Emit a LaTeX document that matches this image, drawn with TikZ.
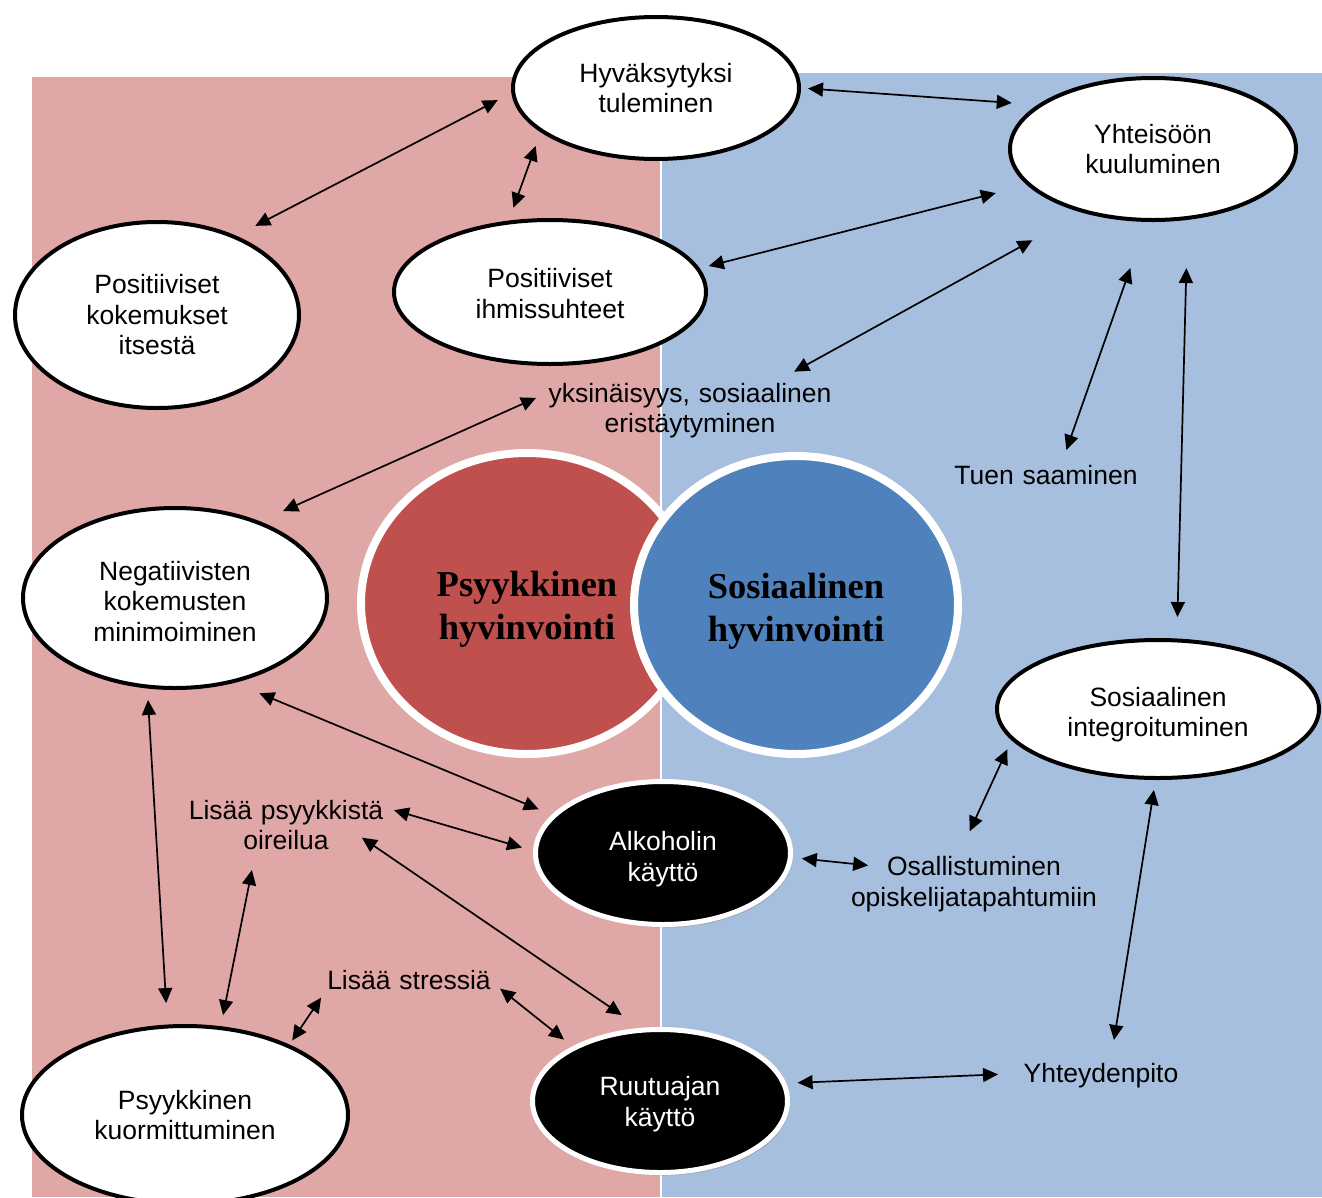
\documentclass[tikz,border=0pt]{standalone}
\usepackage{fontspec}
\setmainfont{Liberation Sans}
\newfontfamily\serifbold{Liberation Serif}
\usetikzlibrary{arrows.meta,shadows,shapes.geometric}
\definecolor{pinkbg}{RGB}{223,167,166}
\definecolor{bluebg}{RGB}{167,191,222}
\definecolor{redc}{RGB}{192,80,77}
\definecolor{bluec}{RGB}{79,129,189}
\newcommand\lowerby[1]{\rule{0pt}{#1}}
\begin{document}
\begin{tikzpicture}[x=1pt,y=-1pt,
  txt/.style={font=\fontsize{26.5}{30.5}\selectfont, align=center},
  lbl/.style={txt, inner sep=0pt, outer sep=0pt},
  wnode/.style={txt, ellipse, draw=black, line width=4pt, fill=white, inner sep=0pt},
  bnode/.style={txt, ellipse, draw=white, line width=5pt, fill=black, text=white, inner sep=0pt,
    drop shadow={opacity=0.35, shadow xshift=2pt, shadow yshift=-3pt}},
  circ/.style={ellipse, draw=white, line width=8pt, inner sep=0pt, align=center,
    font=\serifbold\bfseries\fontsize{36.5}{43}\selectfont,
    drop shadow={opacity=0.3, shadow xshift=2pt, shadow yshift=-3pt}},
  arr/.style={line width=1.7pt, arrows={Triangle[length=15pt 0,width=14pt 0]-Triangle[length=15pt 0,width=14pt 0]}}
]
\useasboundingbox (0,0) rectangle (1322,1197);
\clip (0,0) rectangle (1322,1197);
\fill[white] (0,0) rectangle (1322,1197);
\fill[pinkbg] (32,77) rectangle (661,1197);
\fill[bluebg] (661,72.5) rectangle (1322,1197);
\draw[white, line width=1.2pt] (661,72.5) -- (661,1197);

% central circles
\node[circ, fill=redc, minimum width=332pt, minimum height=301pt] (PSY) at (527,603.5) {\lowerby{37pt}Psyykkinen\\hyvinvointi};
\node[circ, fill=bluec, minimum width=324pt, minimum height=298pt] (SOS) at (796,605) {\lowerby{37pt}Sosiaalinen\\hyvinvointi};

% white ellipses
\node[wnode, minimum width=286pt, minimum height=142pt] (H) at (656,88) {Hyväksytyksi\\tuleminen};
\node[wnode, minimum width=286pt, minimum height=142pt] (Y) at (1153,149) {Yhteisöön\\kuuluminen};
\node[wnode, minimum width=284pt, minimum height=186pt] (PK) at (157,315) {Positiiviset\\kokemukset\\itsestä};
\node[wnode, minimum width=312pt, minimum height=144pt] (PI) at (550,292) {\lowerby{22pt}Positiiviset\\ihmissuhteet};
\node[wnode, minimum width=304pt, minimum height=180pt] (N) at (175,598) {\lowerby{25.5pt}Negatiivisten\\kokemusten\\minimoiminen};
\node[wnode, minimum width=322pt, minimum height=138pt] (S) at (1158,709) {\lowerby{30.5pt}Sosiaalinen\\integroituminen};
\node[wnode, minimum width=326pt, minimum height=178pt] (K) at (185,1115) {Psyykkinen\\kuormittuminen};

% black ellipses
\node[bnode, minimum width=255pt, minimum height=143pt] (A) at (663,853) {\lowerby{31.5pt}Alkoholin\\käyttö};
\node[bnode, minimum width=255pt, minimum height=143pt] (R) at (660,1101) {\lowerby{25.5pt}Ruutuajan\\käyttö};

% plain labels
\node[lbl, text width=286pt, minimum height=60pt] (L1) at (690,408) {\lowerby{24.5pt}yksinäisyys, sosiaalinen\\eristäytyminen};
\node[lbl, text width=188pt, minimum height=32pt] (T) at (1046,475) {Tuen saaminen};
\node[lbl, text width=198pt, minimum height=60pt] (LP) at (286,825) {Lisää psyykkistä\\oireilua};
\node[lbl, text width=252pt, minimum height=60pt] (O) at (974,881) {\lowerby{25.5pt}Osallistuminen\\opiskelijatapahtumiin};
\node[lbl, text width=168pt, minimum height=32pt] (LS) at (409,980) {Lisää stressiä};
\node[lbl, text width=160pt, minimum height=32pt] (YP) at (1101,1072) {\lowerby{25.5pt}Yhteydenpito};

% connectors
\draw[arr, shorten <=15.3pt, shorten >=21.4pt] (H.182.8) -- (PK.45.9);
\draw[arr, shorten <=14.6pt, shorten >=13.6pt] (H.201.8) -- (PI.120.5);
\draw[arr, shorten <=7pt, shorten >=26pt] (H.0) -- (Y.159.8);
\draw[arr, shorten <=32.2pt, shorten >=9.4pt] (Y.196.7) -- (PI.9.5);
\draw[arr, shorten <=56.9pt, shorten >=12.6pt] (Y.222.4) -- (L1.18.8);
\draw[arr, shorten <=48.9pt, shorten >=9.6pt] (Y.265.6) -- (T.43.6);
\draw[arr, shorten <=48.2pt, shorten >=21.5pt] (Y.296.6) -- (S.75.4);
\draw[arr, shorten <=12pt, shorten >=25.2pt] (L1.174.05) -- (N.42.1);
\draw[arr, shorten <=27pt, shorten >=14.1pt] (N.305.9) -- (A.161.5);
\draw[arr, shorten <=11.5pt, shorten >=21.5pt] (N.253) -- (K.101.1);
\draw[arr, shorten <=9.4pt, shorten >=11.5pt] (LP.10.1) -- (A.179.3);
\draw[arr, shorten <=-28pt, shorten >=22.6pt] (LP.344.8) -- (R.105.6);
\draw[arr, shorten <=15.3pt, shorten >=11.3pt] (LP.224.2) -- (K.68.7);
\draw[arr, shorten <=6.9pt, shorten >=4.9pt] (LS.188.4) -- (K.34.5);
\draw[arr, shorten <=9.1pt, shorten >=10.8pt] (LS.358.5) -- (R.148.6);
\draw[arr, shorten <=9.1pt, shorten >=-20.3pt] (A.358.9) -- (O.172.6);
\draw[arr, shorten <=10.1pt, shorten >=20.9pt] (S.192.3) -- (O.113.1);
\draw[arr, shorten <=10.1pt, shorten >=16.2pt] (S.268.9) -- (YP.57);
\draw[arr, shorten <=11.4pt, shorten >=23pt] (R.8.4) -- (YP.181.6);
\end{tikzpicture}
\end{document}
